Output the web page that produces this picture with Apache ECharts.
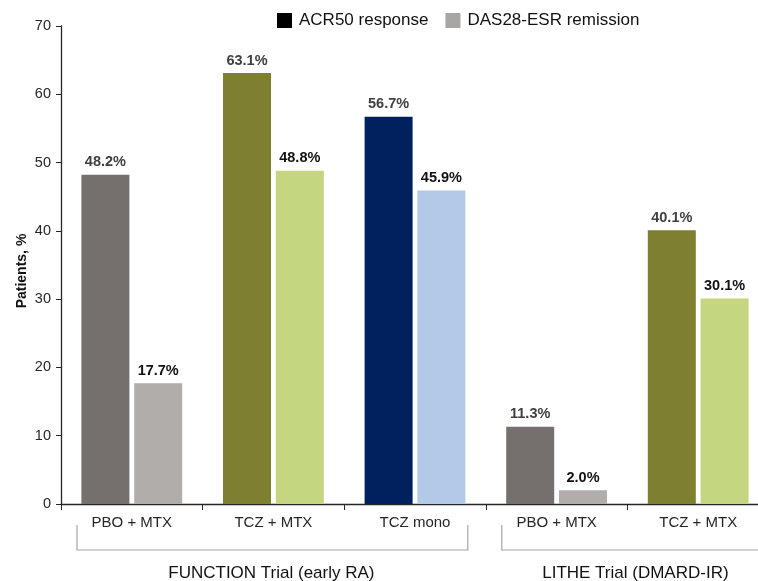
<!DOCTYPE html>
<html>
<head>
<meta charset="utf-8">
<script src="https://cdn.jsdelivr.net/npm/echarts@6/dist/echarts.min.js"></script>
<style>
  html, body { margin: 0; padding: 0; background: #fff; }
  #chart { width: 758px; height: 581px; }
</style>
</head>
<body>
<div id="chart"></div>
<script>
// Treatment arms along the x axis
const categories = ['PBO + MTX', 'TCZ + MTX', 'TCZ mono', 'PBO + MTX', 'TCZ + MTX'];
// Percent of patients per arm
const acr50 = [48.2, 63.1, 56.7, 11.3, 40.1];
const das28 = [17.7, 48.8, 45.9, 2.0, 30.1];
// Per-arm bar colours
const acrColors = ['#75706e', '#7f7f31', '#00215d', '#75706e', '#7f7f31'];
const dasColors = ['#b0adab', '#c5d680', '#b4c8e8', '#b0adab', '#c5d680'];
const seriesNames = ['ACR50 response', 'DAS28-ESR remission'];
// Trial groupings: [label, first category index, last category index]
const trials = [['FUNCTION Trial (early RA)', 0, 2], ['LITHE Trial (DMARD-IR)', 3, 4]];

const FONT = 'Liberation Sans, Arial, sans-serif';
const chart = echarts.init(document.getElementById('chart'), null, { renderer: 'canvas' });

function buildData(values, colors) {
  return values.map((v, i) => ({ value: v, itemStyle: { color: colors[i] } }));
}

const option = {
  animation: false,
  backgroundColor: '#fff',
  textStyle: { fontFamily: FONT },
  legend: {
    left: 277, top: 12, padding: 0,
    itemWidth: 15, itemHeight: 15, itemGap: 17,
    icon: 'rect',
    textStyle: { fontSize: 17, color: '#111', fontFamily: FONT, padding: [0, 0, 0, 2] },
    data: seriesNames
  },
  grid: { left: 61, right: -11, top: 26, bottom: 77, containLabel: false, outerBoundsMode: 'none' },
  xAxis: {
    type: 'category',
    data: categories,
    axisLine: { lineStyle: { color: '#262626', width: 1.3 } },
    axisTick: { show: true, length: 6, lineStyle: { color: '#262626' } },
    axisLabel: { fontSize: 15, color: '#262626', margin: 11, fontFamily: FONT }
  },
  yAxis: {
    type: 'value',
    min: 0, max: 70, interval: 10,
    name: 'Patients, %',
    nameLocation: 'middle',
    nameGap: 32,
    nameMoveOverlap: false,
    nameTextStyle: { fontSize: 14, fontWeight: 'bold', color: '#111', fontFamily: FONT, padding: [0, 12, 0, 0] },
    axisLine: { show: true, lineStyle: { color: '#262626', width: 1.3 } },
    axisTick: { show: true, length: 5, lineStyle: { color: '#262626' } },
    axisLabel: { fontSize: 14.5, color: '#262626', margin: 10, fontFamily: FONT },
    splitLine: { show: false }
  },
  series: [
    {
      name: seriesNames[0], type: 'bar',
      barWidth: 48, barGap: '10%',
      itemStyle: { color: '#000' },
      data: buildData(acr50, acrColors),
      label: {
        show: true, position: 'top', distance: 5,
        formatter: p => p.value.toFixed(1) + '%',
        fontSize: 14.5, fontWeight: 'bold', color: '#404040', fontFamily: FONT
      }
    },
    {
      name: seriesNames[1], type: 'bar',
      barWidth: 48, barGap: '10%',
      itemStyle: { color: '#a8a5a3' },
      data: buildData(das28, dasColors),
      label: {
        show: true, position: 'top', distance: 5,
        formatter: p => p.value.toFixed(1) + '%',
        fontSize: 14.5, fontWeight: 'bold', color: '#111', fontFamily: FONT
      }
    }
  ]
};
chart.setOption(option);

// Trial brackets drawn beneath the category labels; the last one runs off the right edge
function drawBrackets() {
  const px = i => chart.convertToPixel({ xAxisIndex: 0 }, i);
  const half = (px(1) - px(0)) / 2;
  const yTop = 525, yBot = 550, W = 758;
  const elements = [];
  trials.forEach(([label, a, b], k) => {
    const last = k === trials.length - 1;
    const x0 = px(a) - half + 16;
    const x1 = last ? W : px(b) + half - 18;
    const pts = last ? [[x0, yTop], [x0, yBot], [x1, yBot]]
                     : [[x0, yTop], [x0, yBot], [x1, yBot], [x1, yTop]];
    elements.push({
      type: 'polyline', silent: true,
      shape: { points: pts },
      style: { stroke: '#a6a6a6', lineWidth: 1.2, fill: null }
    });
    const cx = (px(a) + px(b)) / 2;
    elements.push({
      type: 'text', silent: true,
      x: last ? cx + 8 : cx - 2, y: 573,
      style: { text: label, fontSize: 17, fill: '#111', fontFamily: FONT, align: 'center', verticalAlign: 'middle' }
    });
  });
  chart.setOption({ graphic: elements });
}
drawBrackets();
</script>
</body>
</html>
